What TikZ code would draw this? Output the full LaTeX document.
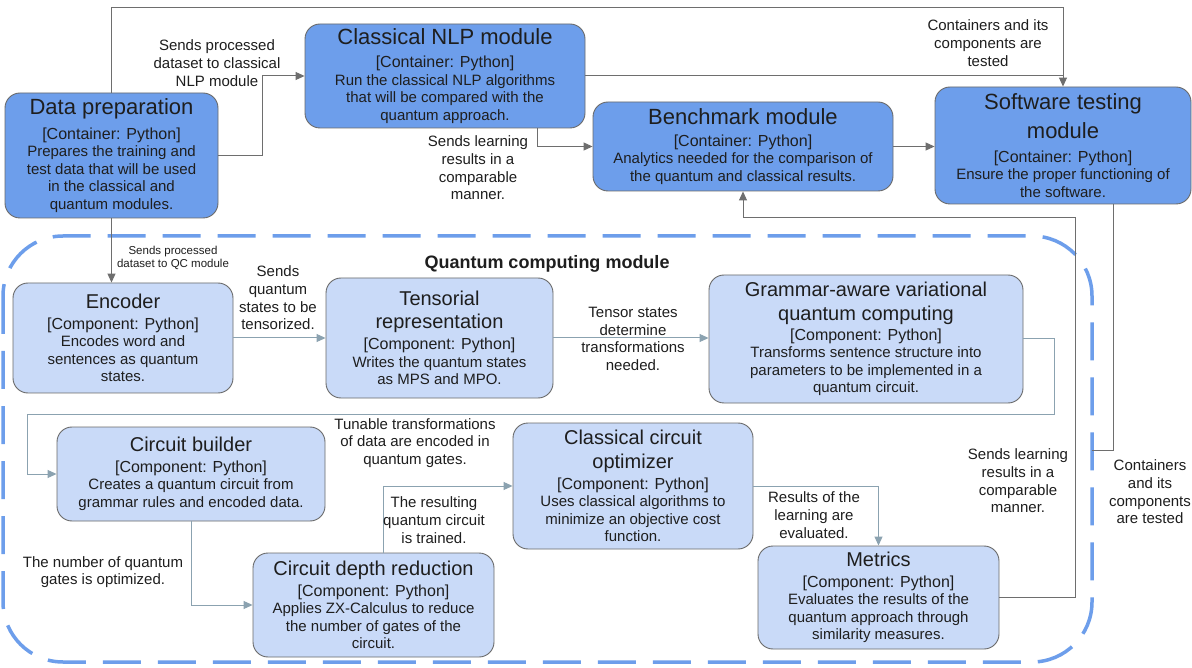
\documentclass[tikz,border=0pt]{standalone}
\usepackage{fontspec}
\setmainfont{Liberation Sans}
\usetikzlibrary{arrows.meta,calc}
\definecolor{darkfill}{HTML}{6D9EEB}
\definecolor{lightfill}{HTML}{C9DAF8}
\definecolor{boxline}{HTML}{6A6A6A}
\definecolor{outline}{HTML}{6E6E6E}
\definecolor{inline}{HTML}{8BA2B0}
\definecolor{qcline}{HTML}{6D9EEB}
\definecolor{txt}{HTML}{1E1E1E}
\newcommand{\descfont}{\fontsize{15}{17.5}\selectfont\lineskiplimit=-100pt\relax}
\newcommand{\lblfont}{\fontsize{15}{17.7}\selectfont\lineskiplimit=-100pt\relax}
\newcommand{\smalllblfont}{\fontsize{11.5}{13}\selectfont\lineskiplimit=-100pt\relax}
\newcommand{\contitle}[1]{{\fontsize{22}{26}\selectfont #1}}
\newcommand{\comptitle}[1]{{\fontsize{20}{24}\selectfont #1}}
\newcommand{\bracketline}[1]{{\fontsize{16}{19}\selectfont #1}}
\begin{document}
\begin{tikzpicture}[x=1pt,y=-1pt,
  box/.style={draw=boxline, line width=0.9pt, rounded corners=15pt, align=center, inner sep=0pt, text=txt, font=\descfont},
  cont/.style={box, fill=darkfill},
  comp/.style={box, fill=lightfill},
  lbl/.style={align=center, inner sep=0pt, text=txt, font=\lblfont},
  outer/.style={draw=outline, line width=1pt},
  innerc/.style={draw=inline, line width=1pt},
  tipout/.style={-{Triangle[length=9pt,width=8pt]}, outer},
  tipin/.style={-{Triangle[length=9pt,width=8pt]}, innerc},
]
\useasboundingbox (0,0) rectangle (1192,668);
\fill[white] (0,0) rectangle (1192,668);

% quantum computing module boundary
\draw[draw=qcline, line width=3.5pt, dash pattern=on 38pt off 17pt, rounded corners=60pt] (3,236) rectangle (1092,662);
\node[font=\fontsize{18}{21}\selectfont\bfseries, text=txt, inner sep=0pt] (qctitle) at (547,264) {Quantum computing module};

% containers
\node[cont, minimum width=213pt, minimum height=125pt] (dp) at (111.5,155.5)
 {\contitle{Data preparation}\\[7pt]\bracketline{[Container: Python]}\\Prepares the training and\\test data that will be used\\in the classical and\\quantum modules.};
\node[cont, minimum width=280pt, minimum height=104pt] (nlp) at (445,76)
 {\contitle{Classical NLP module}\\[5.5pt]\bracketline{[Container: Python]}\\Run the classical NLP algorithms\\that will be compared with the\\quantum approach.};
\node[cont, minimum width=300pt, minimum height=89pt] (bench) at (743,146.5)
 {\contitle{Benchmark module}\\[4.5pt]\bracketline{[Container: Python]}\\Analytics needed for the comparison of\\the quantum and classical results.};
\node[cont, minimum width=256pt, minimum height=117pt] (test) at (1063,145.5)
 {\contitle{Software testing}\\[11.5pt]\contitle{module}\\[6.5pt]\bracketline{[Container: Python]}\\Ensure the proper functioning of\\the software.};

% components
\node[comp, minimum width=220pt, minimum height=110pt] (enc) at (123,338)
 {\comptitle{Encoder}\\[3.5pt]\bracketline{[Component: Python]}\\Encodes word and\\sentences as quantum\\states.};
\node[comp, minimum width=227pt, minimum height=120pt] (tens) at (439.5,338)
 {\comptitle{Tensorial}\\[5.5pt]\comptitle{representation}\\[3.5pt]\bracketline{[Component: Python]}\\Writes the quantum states\\as MPS and MPO.};
\node[comp, minimum width=314pt, minimum height=128pt] (gram) at (866,339)
 {\comptitle{Grammar-aware variational}\\[6.5pt]\comptitle{quantum computing}\\[2.5pt]\bracketline{[Component: Python]}\\Transforms sentence structure into\\parameters to be implemented in a\\quantum circuit.};
\node[comp, minimum width=268pt, minimum height=94pt] (cb) at (191,474)
 {\comptitle{Circuit builder}\\[3pt]\bracketline{[Component: Python]}\\Creates a quantum circuit from\\grammar rules and encoded data.};
\node[comp, minimum width=241pt, minimum height=104pt] (cdr) at (373.5,605)
 {\comptitle{Circuit depth reduction}\\[3pt]\bracketline{[Component: Python]}\\Applies ZX-Calculus to reduce\\the number of gates of the\\circuit.};
\node[comp, minimum width=240pt, minimum height=126pt] (cco) at (633,486)
 {\comptitle{Classical circuit}\\[6.5pt]\comptitle{optimizer}\\[3.5pt]\bracketline{[Component: Python]}\\Uses classical algorithms to\\minimize an objective cost\\function.};
\node[comp, minimum width=241pt, minimum height=103pt] (met) at (878.5,597.5)
 {\comptitle{Metrics}\\[3.5pt]\bracketline{[Component: Python]}\\Evaluates the results of the\\quantum approach through\\similarity measures.};

% outer connectors
\draw[tipout] (dp.east) -- ++(44,0) |- (nlp.west);
\draw[tipout] (dp.north) -- ++(0,-85) -| (test.north);
\draw[outer] (nlp.east) -- (nlp.east -| test.north);
\draw[tipout] ([xshift=92pt]nlp.south) |- (bench.west);
\draw[tipout] (bench.east) -- (bench.east -| test.west);
\coordinate (qcr) at (1092,450);
\draw[outer] ([xshift=50pt]test.south) |- (qcr);
\draw[tipout] (met.east) -| (1075,218) -| (bench.south);
\draw[tipout] (dp.south) -- (dp.south |- enc.north);

% inner connectors
\draw[tipin] (enc.east) -- (tens.west);
\draw[tipin] (tens.east) -- (tens.east -| gram.west);
\draw[tipin] (gram.east) -| (1054,414) -| (27,474) -- (cb.west);
\draw[tipin] (cb.south) |- (cdr.west);
\draw[tipin] ([xshift=9.5pt]cdr.north) |- (cco.west);
\draw[tipin] (cco.east) -| (met.north);

% labels
\node[lbl] (l1) at (217,63) {Sends processed\\dataset to classical\\NLP module};
\node[lbl] (l2) at (988,43) {Containers and its\\components are\\tested};
\node[lbl] (l3) at (478,168) {Sends learning\\results in a\\comparable\\manner.};
\node[lbl, font=\smalllblfont] (l4) at (173,258) {Sends processed\\dataset to QC module};
\node[lbl] (l5) at (278,298) {Sends\\quantum\\states to be\\tensorized.};
\node[lbl] (l6) at (633,339) {Tensor states\\determine\\transformations\\needed.};
\node[lbl] (l7) at (415,443) {Tunable transformations\\of data are encoded in\\quantum gates.};
\node[lbl] (l8) at (103,572) {The number of quantum\\gates is optimized.};
\node[lbl] (l9) at (434,520) {The resulting\\quantum circuit\\is trained.};
\node[lbl] (l10) at (814,515) {Results of the\\learning are\\evaluated.};
\node[lbl] (l11) at (1018,481) {Sends learning\\results in a\\comparable\\manner.};
\node[lbl] (l12) at (1150,492) {Containers\\and its\\components\\are tested};
\end{tikzpicture}
\end{document}
